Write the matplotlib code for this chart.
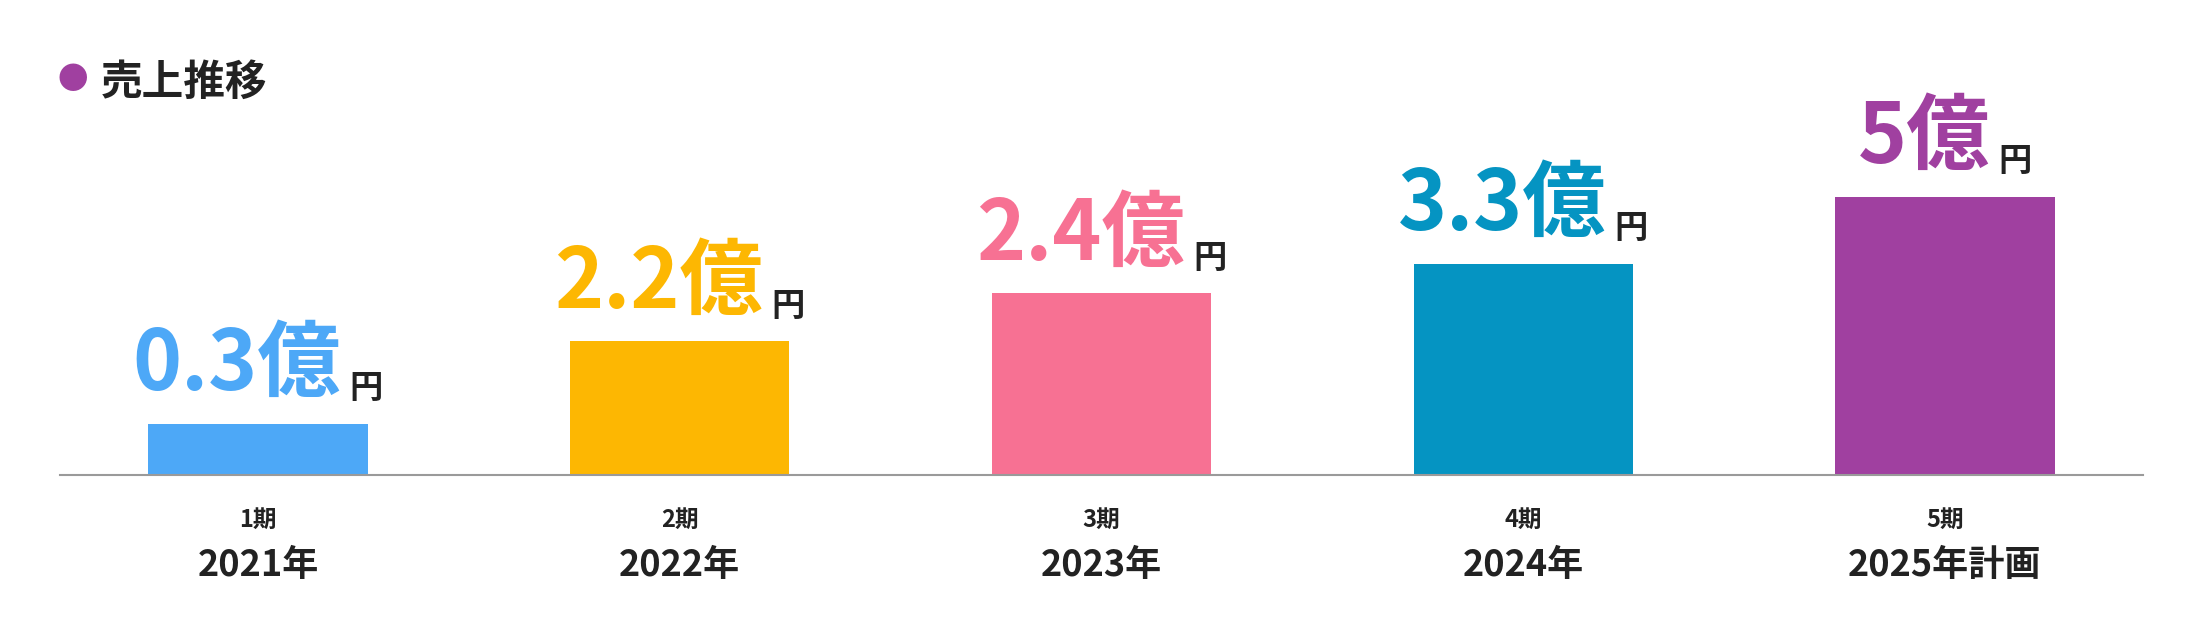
import matplotlib
matplotlib.use("Agg")
import matplotlib.pyplot as plt

plt.rcParams['font.family'] = ['Noto Sans CJK JP', 'DejaVu Sans']

periods = ["1期", "2期", "3期", "4期", "5期"]
years = ["2021年", "2022年", "2023年", "2024年", "2025年計画"]
value_labels = ["0.3億", "2.2億", "2.4億", "3.3億", "5億"]
bar_heights = [36, 95, 129, 150, 198]  # as drawn in the picture
colors = ["#4DA8F7", "#FDB702", "#F77193", "#0594C2", "#A040A0"]

fig = plt.figure(figsize=(22, 6.26), dpi=100)
ax = fig.add_axes([0.0274, 0.242, 0.9466, 0.758])
x = list(range(len(periods)))
ax.bar(x, bar_heights, width=0.52, color=colors, zorder=2)
ax.set_xlim(-0.469, 4.469)
ax.set_ylim(0, 338)
for s in ["top", "left", "right"]:
    ax.spines[s].set_visible(False)
ax.spines["bottom"].set_color("#9a9a9a")
ax.spines["bottom"].set_linewidth(1.5)
ax.set_xticks([]); ax.set_yticks([])

for i in x:
    t = ax.text(i - 0.05, bar_heights[i] + 24, value_labels[i], ha="center", va="baseline",
                fontsize=60, fontweight="bold", color=colors[i])
    ax.annotate("円", xy=(1, 0), xycoords=t, xytext=(6, 2), textcoords="offset points",
                ha="left", va="bottom", fontsize=24, fontweight="bold", color="#222222")
    ax.text(i, -32, periods[i], ha="center", va="center", fontsize=17, fontweight="bold",
            color="#222222", clip_on=False)
    ax.text(i, -65, years[i], ha="center", va="center", fontsize=26, fontweight="bold",
            color="#222222", clip_on=False)

fig.text(0.0332, 0.872, "●", ha="center", va="center", fontsize=22, color="#A040A0")
fig.text(0.046, 0.868, "売上推移", ha="left", va="center", fontsize=30, fontweight="bold",
         color="#222222")

fig.savefig("out.png", dpi=100)
